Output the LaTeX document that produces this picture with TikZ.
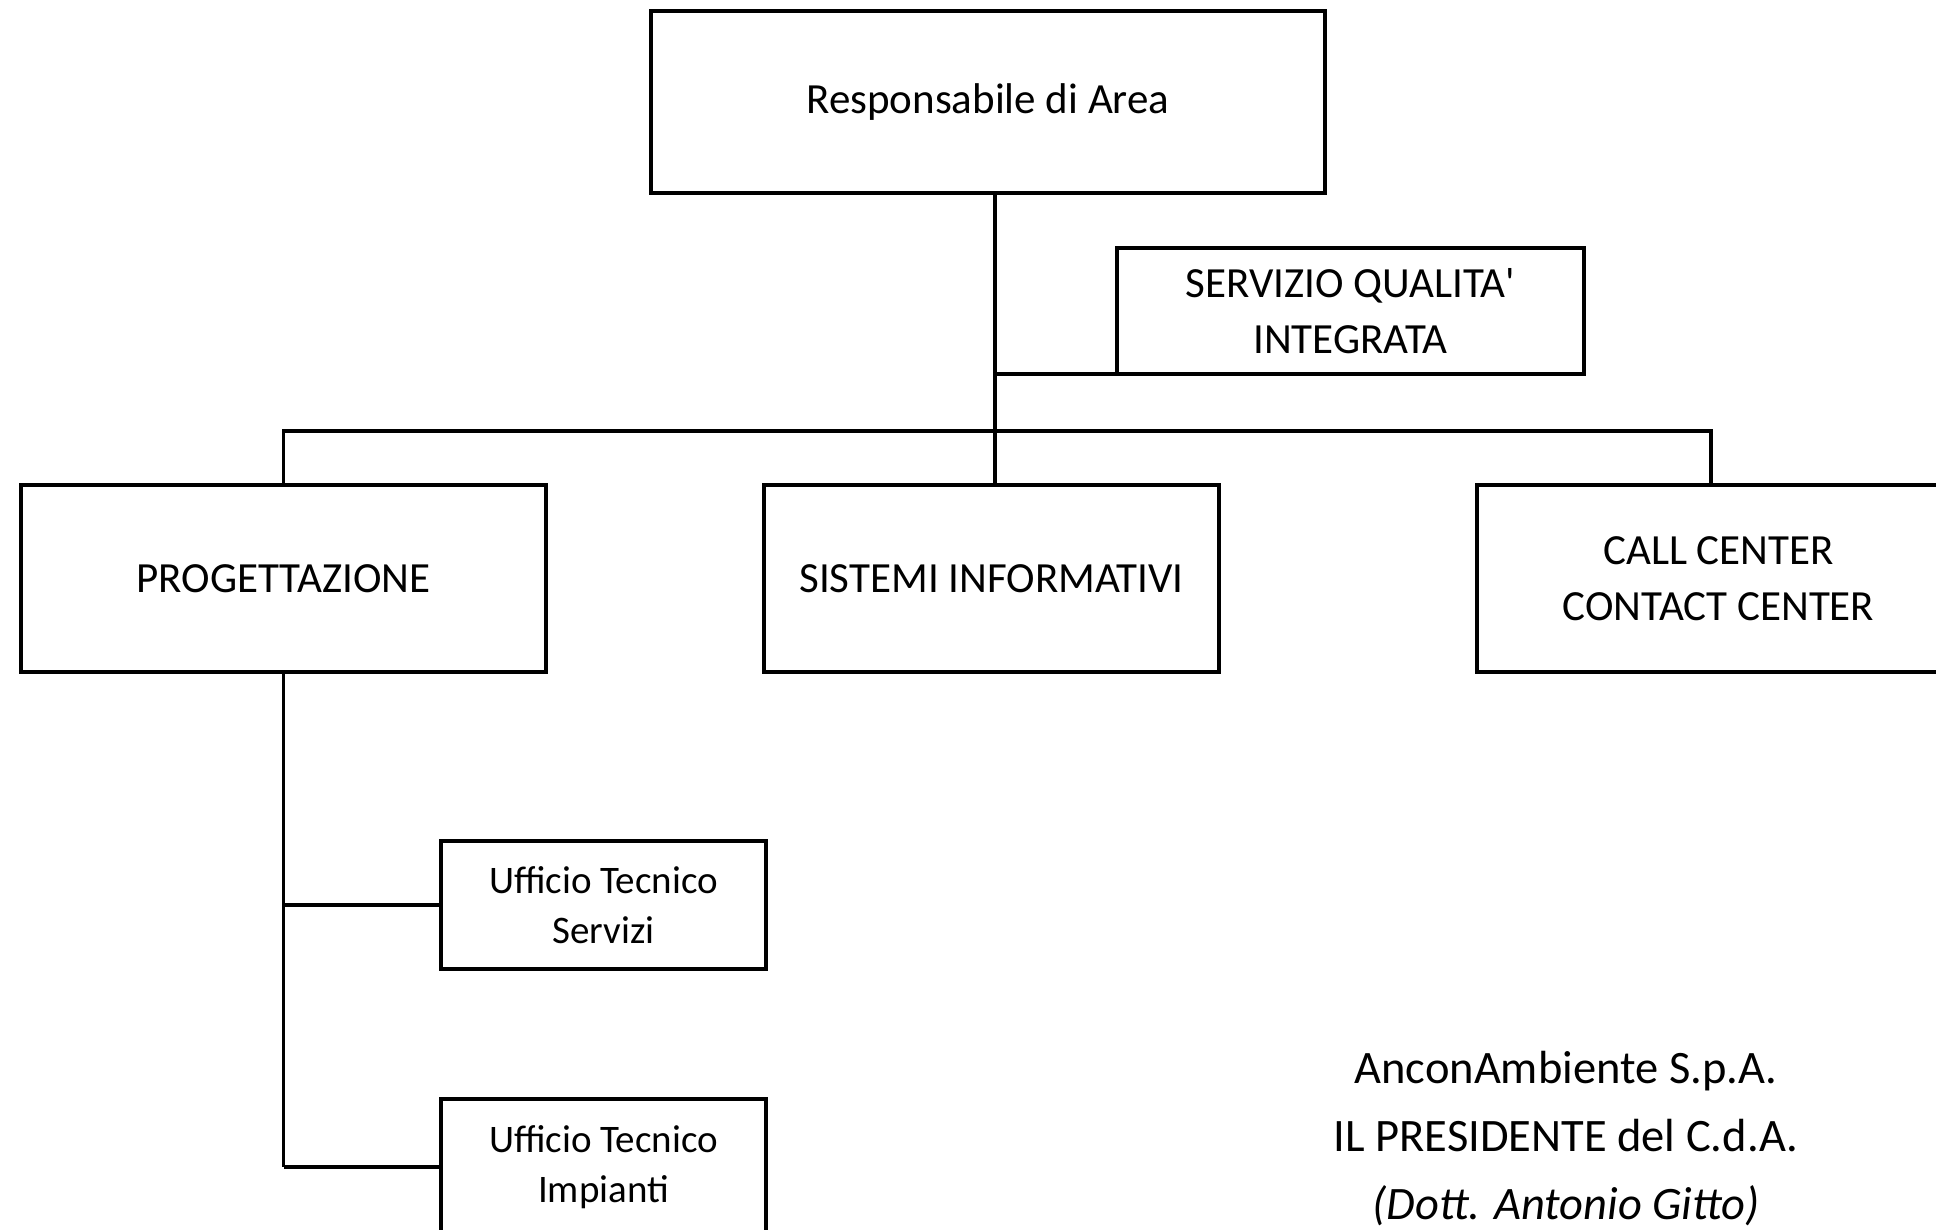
\documentclass[tikz,border=0pt]{standalone}
\usepackage{fontspec}
\setmainfont{Carlito}
\begin{document}
\begin{tikzpicture}[x=1pt,y=-1pt,
  box/.style={draw,line width=3.8pt,rectangle,align=center,inner sep=0pt,
    font=\fontsize{43}{56}\selectfont},
  sbox/.style={box,font=\fontsize{39}{50}\selectfont},
  conn/.style={line width=3.8pt}]
\useasboundingbox (0,0) rectangle (1936,1230);
\clip (0,0) rectangle (1936,1230);
\node[box,minimum width=674pt,minimum height=182pt] (top) at (988,102) {Responsabile di Area};
\node[box,minimum width=467pt,minimum height=126pt] (sq) at (1350.5,311) {SERVIZIO QUALITA\textquotesingle\\INTEGRATA};
\node[box,minimum width=525pt,minimum height=187pt] (prog) at (283.5,578.5) {PROGETTAZIONE};
\node[box,minimum width=455pt,minimum height=187pt] (sis) at (991.5,578.5) {SISTEMI INFORMATIVI};
\node[box,minimum width=483pt,minimum height=187pt] (call) at (1718.5,578.5) {CALL CENTER\\CONTACT CENTER};
\node[sbox,minimum width=325pt,minimum height=128pt] (uts) at (603.5,905) {Ufficio Tecnico\\Servizi};
\node[sbox,minimum width=325pt,minimum height=136pt] (uti) at (603.5,1167) {Ufficio Tecnico\\Impianti};
\node[align=center,font=\fontsize{46.5}{68}\selectfont] (sig) at (1566,1139)
  {AnconAmbiente S.p.A.\\IL PRESIDENTE del C.d.A.\\\textit{(Dott. Antonio Gitto)}};
\coordinate (j1) at (995,374);
\coordinate (j2) at (995,431);
\coordinate (cdrop) at (1711,485);
\draw[conn] (top.south -| j1) -- (sis.north -| j1);
\draw[conn] (j1) -- (j1 -| sq.west);
\draw[conn] (prog.north) |- (j2) -| (cdrop);
\draw[conn] (prog.south) -- (prog.south |- uti.west);
\draw[conn] (prog.south |- uts.west) -- (uts.west);
\draw[conn] (prog.south |- uti.west) -- (uti.west);
\end{tikzpicture}
\end{document}
